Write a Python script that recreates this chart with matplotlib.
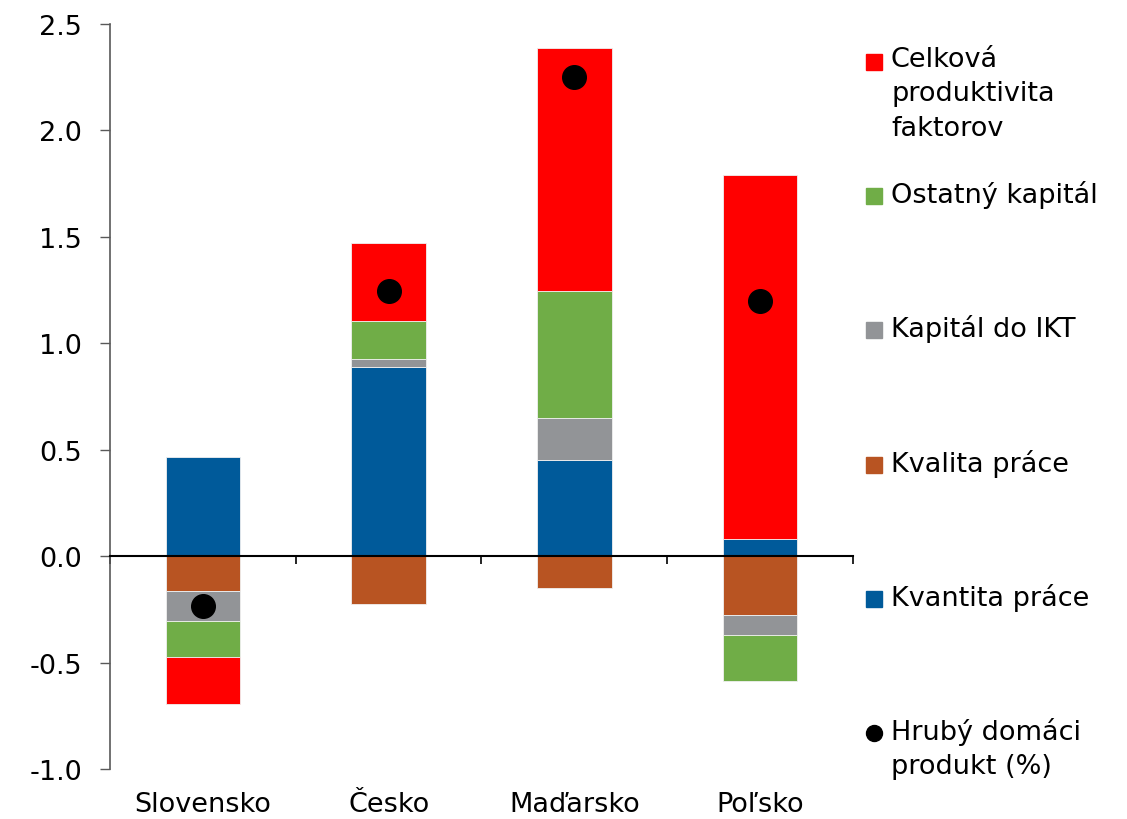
import numpy as np
import matplotlib
matplotlib.use("Agg")
import matplotlib.pyplot as plt
from matplotlib.transforms import blended_transform_factory

# data
countries = ["Slovensko", "Česko", "Maďarsko", "Poľsko"]
kvantita = [0.465, 0.89, 0.45, 0.08]
kvalita = [-0.165, -0.225, -0.15, -0.277]
ikt = [-0.14, 0.035, 0.20, -0.095]
ostatny = [-0.17, 0.18, 0.595, -0.215]
tfp = [-0.22, 0.365, 1.14, 1.71]
hdp = [-0.235, 1.245, 2.25, 1.20]

series = [
    ("Kvantita práce", kvantita, "#005A9A"),
    ("Kvalita práce", kvalita, "#B85422"),
    ("Kapitál do IKT", ikt, "#929497"),
    ("Ostatný kapitál", ostatny, "#70AD47"),
    ("Celková\nproduktivita\nfaktorov", tfp, "#FF0000"),
]

plt.rcParams['font.family'] = ['DejaVu Sans']
fs = 19.5

fig = plt.figure(figsize=(11.27, 8.2), dpi=100)
ax = fig.add_axes([110 / 1127, 1 - 770 / 820, (853 - 110) / 1127, (770 - 25) / 820])

x = np.arange(len(countries))
pos_base = np.zeros(len(countries))
neg_base = np.zeros(len(countries))
for name, vals, col in series:
    vals = np.array(vals)
    base = np.where(vals >= 0, pos_base, neg_base)
    ax.bar(x, vals, width=0.4, bottom=base, color=col, edgecolor="#f0f0f0", linewidth=0.6, zorder=2)
    pos_base += np.where(vals >= 0, vals, 0)
    neg_base += np.where(vals < 0, vals, 0)

ax.plot(x, hdp, "o", color="black", markersize=17, zorder=3, linestyle="none")

ax.set_xlim(-0.5, 3.5)
ax.set_ylim(-1.0, 2.5)
ax.set_yticks(np.arange(-1.0, 2.51, 0.5))
ax.set_yticklabels([f"{v:.1f}" for v in np.arange(-1.0, 2.51, 0.5)], fontsize=fs)
ax.tick_params(axis="y", length=7, width=1, color="#595959", pad=13)

for s in ["top", "right"]:
    ax.spines[s].set_visible(False)
ax.spines["left"].set_color("#595959")
ax.spines["left"].set_linewidth(1.2)
ax.spines["bottom"].set_position(("data", 0))
ax.spines["bottom"].set_color("black")
ax.spines["bottom"].set_linewidth(1.5)
ax.set_xticks(np.arange(-0.5, 3.51, 1.0))
ax.set_xticklabels([])
ax.tick_params(axis="x", length=6, width=1.2, color="black", direction="out")

trans = blended_transform_factory(ax.transData, ax.transAxes)
for i, c in enumerate(countries):
    ax.annotate(c, xy=(i, 0), xycoords=trans, xytext=(0, -16), textcoords="offset points",
                ha="center", va="top", fontsize=fs)

# legend drawn by hand, evenly spaced like the original
legend_items = [(s[0], s[2], "s") for s in reversed(series)] + [("Hrubý domáci\nprodukt (%)", "black", "o")]
y_top = 47
for k, (lab, col, mk) in enumerate(legend_items):
    yc = 63 + k * 134.2
    fig.text(891 / 1127, 1 - y_top / 820 - k * 134.2 / 820, lab, fontsize=fs, va="top", ha="left",
             linespacing=1.42)
    fig.lines.append(plt.Line2D([874 / 1127], [1 - yc / 820], marker=mk, color=col,
                                markersize=11.5, linestyle="none",
                                transform=fig.transFigure))

fig.savefig("out.png", dpi=100)
